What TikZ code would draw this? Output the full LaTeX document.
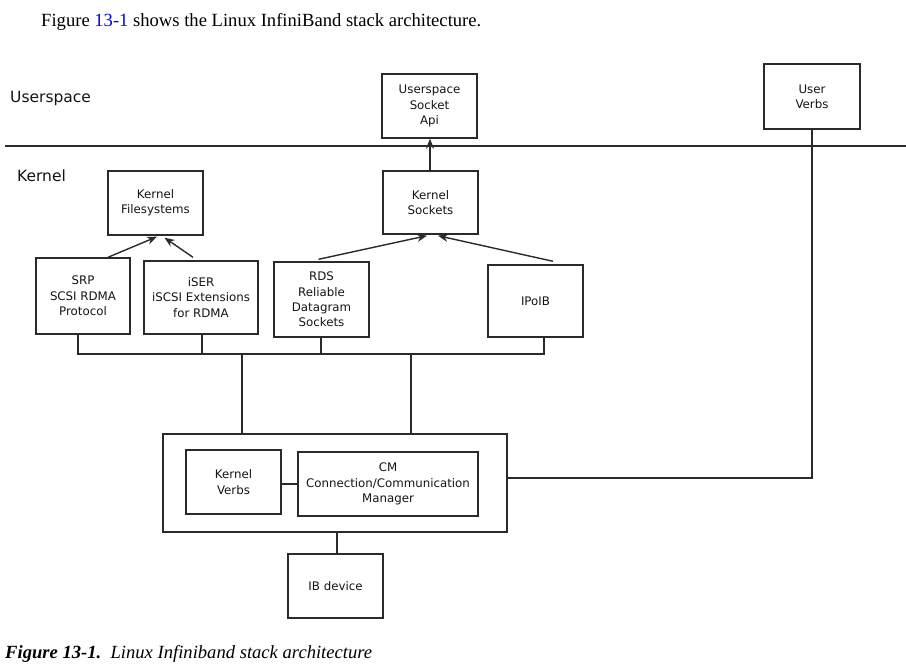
\documentclass[tikz,border=0pt]{standalone}
\usepackage{fontspec}
\setmainfont{Liberation Serif}
\newfontfamily\boxfont{DejaVu Sans}
\usepackage{xcolor}
\usetikzlibrary{positioning,arrows.meta}
\definecolor{linegray}{HTML}{2A2A2A}
\definecolor{textgray}{HTML}{141414}
\definecolor{linkblue}{HTML}{0000EE}
\tikzset{
	blk/.style   = {shape=rectangle, draw=linegray, line width=1.4pt,
		align=center, text=textgray, inner sep=0pt,
		font=\boxfont\fontsize{11.8}{15.3}\selectfont},
	layer/.style = {anchor=west, inner sep=0pt, text=textgray,
		font=\boxfont\fontsize{15.5}{18}\selectfont},
	conn/.style  = {draw=linegray, line width=1.4pt},
	arr/.style   = {conn, -{Stealth[length=10pt,width=8pt]}}
}

\begin{document}
\begin{tikzpicture}[x=1pt,y=-1pt]
\useasboundingbox (0,0) rectangle (906,671);
% page text round the figure
\node [anchor=base west, inner sep=0pt, font=\fontsize{18.6}{22}\selectfont]
      (intro) at (41,27) {Figure \textcolor{linkblue}{13-1} shows the Linux InfiniBand stack architecture.};
\node [anchor=base west, inner sep=0pt, font=\fontsize{18.6}{22}\selectfont]
      (caption) at (5,658) {\textbf{\textit{Figure 13-1.}}\ \ \textit{Linux Infiniband stack architecture}};
% layers
\node [layer] (userspace) at (10,98) {Userspace};
\node [layer] (kernel) at (17,176) {Kernel};
\coordinate (sepL) at (5,146);
\coordinate (sepR) at (906,146);
\draw [conn] (sepL) -- (sepR);
% boxes
\node [blk, minimum width=95pt, minimum height=64pt] (uapi)   at (429.5,106) {Userspace\\Socket\\Api};
\node [blk, minimum width=96pt, minimum height=65pt] (uverbs) at (812,96.5) {User\\Verbs};
\node [blk, minimum width=95pt, minimum height=63pt] (ksock)  at (430.5,202.5) {Kernel\\Sockets};
\node [blk, minimum width=95pt, minimum height=64pt] (kfs)    at (155.5,203) {Kernel\\Filesystems};
\node [blk, minimum width=94pt, minimum height=76pt] (srp)    at (83,296) {SRP\\SCSI RDMA\\Protocol};
\node [blk, minimum width=114pt, minimum height=73pt] (iser)  at (201,297.5) {iSER\\iSCSI Extensions\\for RDMA};
\node [blk, minimum width=95pt, minimum height=75pt] (rds)    at (321.5,299.5) {RDS\\Reliable\\Datagram\\Sockets};
\node [blk, minimum width=95pt, minimum height=72pt] (ipoib)  at (535.5,301) {IPoIB};
\node [blk, minimum width=344pt, minimum height=98pt] (core)  at (335,483) {};
\node [blk, minimum width=95pt, minimum height=64pt] (kverbs)  at (233.5,482) {Kernel\\Verbs};
\node [blk, minimum width=180pt, minimum height=64pt] (cm)    at (388,484) {CM\\Connection/Communication\\Manager};
\node [blk, minimum width=95pt, minimum height=64pt] (ibdev)  at (335.5,586) {IB device};
% arrows
\draw [arr] ([xshift=-0.5pt]ksock.north) -- ([xshift=-0.5pt]ksock.north |- uapi.south);
\draw [arr] ([xshift=25pt]srp.north) -- ([xshift=1.5pt,yshift=-1pt]kfs.south);
\draw [arr] ([xshift=-8pt,yshift=3pt]iser.north) -- ([xshift=9pt,yshift=-2pt]kfs.south);
\draw [arr] ([xshift=-3pt,yshift=2pt]rds.north) -- ([xshift=-3.5pt,yshift=-1pt]ksock.south);
\draw [arr] ([xshift=17.5pt,yshift=3pt]ipoib.north) -- ([xshift=7.5pt,yshift=-1pt]ksock.south);
% bus
\coordinate (bus) at (0,354);
\draw [conn] ([xshift=-5pt]srp.south) -- ([xshift=-5pt]srp.south |- bus) -| ([xshift=8.5pt]ipoib.south);
\draw [conn] ([xshift=1pt]iser.south) -- ([xshift=1pt]iser.south |- bus);
\draw [conn] ([xshift=-0.5pt]rds.south) -- ([xshift=-0.5pt]rds.south |- bus);
\coordinate (drop1) at (242,354);
\coordinate (drop2) at (411,354);
\draw [conn] (drop1) -- (drop1 |- core.north);
\draw [conn] (drop2) -- (drop2 |- core.north);
% core links
\draw [conn] (kverbs.east |- cm) -- (cm.west);
\draw [conn] ([xshift=2pt]core.south) -- ([xshift=1.5pt]ibdev.north);
\draw [conn] (uverbs.south) |- ([yshift=5pt]core.east);
\end{tikzpicture}
\end{document}
